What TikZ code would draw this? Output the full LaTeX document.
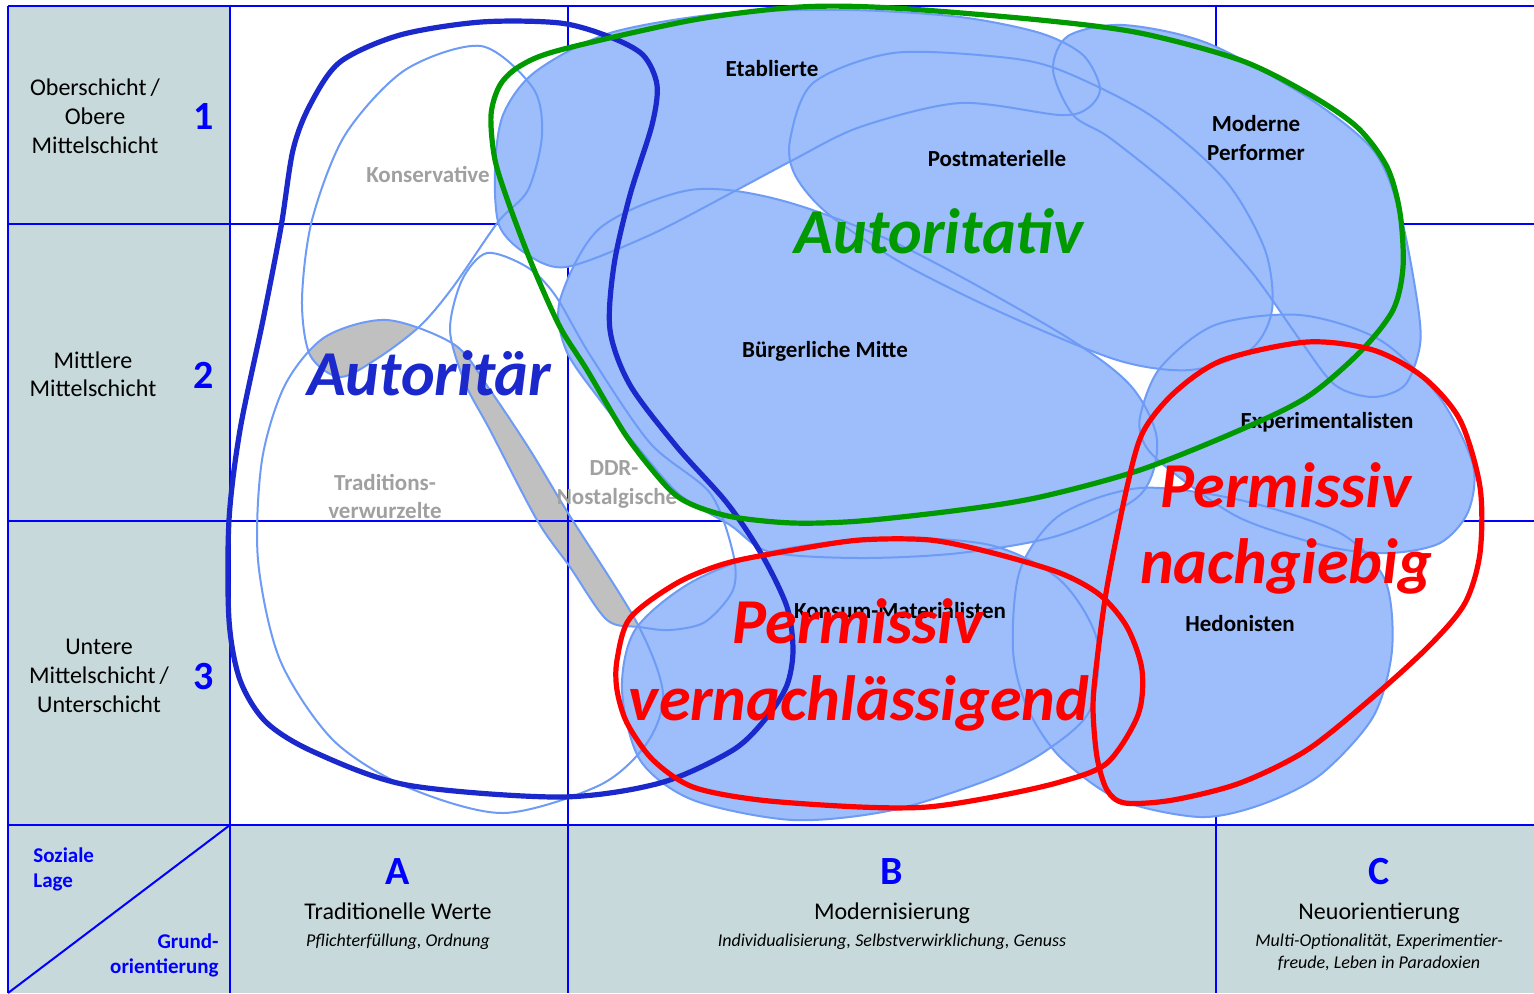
\documentclass[tikz,border=0pt]{standalone}
\usepackage{fontspec}
\setmainfont{Carlito}
\definecolor{cellgray}{RGB}{199,217,218}
\definecolor{gridblue}{RGB}{0,0,255}
\definecolor{milfill}{RGB}{157,190,250}
\definecolor{milline}{RGB}{110,155,245}
\definecolor{autblue}{RGB}{26,40,204}
\definecolor{autgreen}{RGB}{0,153,0}
\definecolor{permred}{RGB}{255,0,0}
\definecolor{graylab}{RGB}{160,160,160}
\definecolor{grayfill}{RGB}{192,192,192}
\def\pEtab{plot[smooth cycle] coordinates {(495,170) (503,115) (535,72) (610,33) (727,13) (850,10) (960,17) (1040,33) (1083,55) (1100,88) (1088,108) (1060,115) (960,103) (860,127) (793,160) (733,192) (650,235) (566,267) (525,253) (499,225)}}
\def\pPost{plot[smooth cycle] coordinates {(790,140) (813,83) (893,53) (1000,57) (1060,70) (1150,115) (1225,180) (1265,250) (1272,310) (1250,350) (1190,370) (1117,360) (1000,312) (900,262) (827,213) (795,175)}}
\def\pMP{plot[smooth cycle] coordinates {(1053,70) (1068,36) (1123,25) (1207,43) (1307,97) (1373,150) (1400,213) (1417,300) (1420,345) (1405,385) (1373,397) (1335,385) (1300,340) (1250,270) (1180,195) (1110,138) (1073,115)}}
\def\pBM{plot[smooth cycle] coordinates {(560,300) (600,228) (690,190) (780,200) (900,245) (1060,333) (1130,385) (1157,440) (1140,495) (1060,535) (960,553) (860,558) (770,552) (730,525) (680,495) (640,450) (600,400) (566,350)}}
\def\pExp{plot[smooth cycle] coordinates {(1140,417) (1160,368) (1215,325) (1300,315) (1380,340) (1440,398) (1473,465) (1468,512) (1440,543) (1390,553) (1330,547) (1240,518) (1170,470) (1145,445)}}
\def\pHed{plot[smooth cycle] coordinates {(1013,650) (1020,570) (1060,515) (1140,488) (1240,500) (1340,533) (1385,580) (1392,650) (1373,717) (1320,775) (1260,805) (1200,817) (1120,800) (1060,757) (1027,707)}}
\def\pKM{plot[smooth cycle] coordinates {(622,690) (635,630) (690,583) (770,552) (880,538) (990,545) (1060,580) (1097,640) (1090,710) (1047,750) (993,778) (893,810) (793,820) (693,800) (640,760)}}
\def\pKons{plot[smooth cycle] coordinates {(481,46) (533,88) (542,135) (528,190) (498,222) (453,287) (420,326) (378,358) (340,377) (310,355) (302,300) (312,220) (345,135) (405,70)}}
\def\pTrad{plot[smooth cycle] coordinates {(387,320) (455,345) (490,390) (530,450) (568,513) (637,623) (663,693) (647,743) (600,785) (503,813) (407,787) (333,740) (280,660) (258,560) (262,460) (285,385) (325,337)}}
\def\pDDR{plot[smooth cycle] coordinates {(487,253) (527,267) (555,295) (590,355) (650,443) (710,493) (733,553) (733,590) (705,622) (670,630) (640,627) (607,620) (570,567) (537,520) (490,430) (465,383) (450,330) (462,280)}}
\def\pAutor{plot[smooth cycle] coordinates {(560,23) (610,37) (643,55) (657,85) (652,125) (630,195) (614,265) (610,330) (630,385) (677,447) (727,503) (762,555) (787,607) (793,650) (787,685) (767,717) (733,750) (660,783) (560,797) (407,785) (314,752) (266,722) (240,680) (229,620) (229,520) (240,430) (263,320) (281,227) (293,150) (310,105) (340,62) (400,35) (481,22)}}
\def\pAutiv{plot[smooth cycle] coordinates {(560,50) (693,20) (800,7) (893,8) (1040,20) (1140,33) (1240,60) (1307,93) (1357,127) (1387,167) (1400,213) (1403,267) (1393,310) (1360,352) (1307,397) (1240,430) (1140,470) (1040,497) (960,510) (860,521) (793,523) (733,517) (693,505) (668,488) (627,437) (587,370) (560,327) (533,267) (510,207) (495,160) (491,115) (500,85) (520,66)}}
\def\pRedA{plot[smooth cycle] coordinates {(617,660) (630,618) (677,583) (727,563) (793,550) (860,540) (930,540) (993,553) (1060,573) (1100,595) (1127,627) (1142,670) (1138,715) (1107,763) (1060,782) (993,797) (927,807) (860,807) (760,800) (693,787) (653,760) (627,723) (617,690)}}
\def\pRedB{plot[smooth cycle] coordinates {(1097,660) (1107,587) (1127,487) (1143,432) (1175,392) (1223,360) (1307,342) (1373,350) (1423,377) (1460,420) (1480,487) (1480,553) (1465,603) (1430,645) (1373,697) (1307,750) (1240,783) (1173,800) (1125,803) (1107,790) (1097,757) (1093,707)}}
\tikzset{
  gridline/.style={draw=gridblue, line width=1pt},
  milshape/.style={draw=milline, line width=1pt},
  loopline/.style={line width=2.6pt},
  lab/.style={anchor=base, inner sep=0pt, font=\fontsize{12}{14}\selectfont},
  num/.style={anchor=base, inner sep=0pt, text=gridblue, font=\fontsize{20}{24}\selectfont\bfseries},
  sub/.style={anchor=base, inner sep=0pt, font=\fontsize{9}{11}\selectfont\itshape},
  corner/.style={inner sep=0pt, text=gridblue, font=\fontsize{10.5}{12}\selectfont\bfseries},
  mil/.style={anchor=base, inner sep=0pt, font=\fontsize{11.5}{13}\selectfont\bfseries},
  milgray/.style={mil, text=graylab},
  big/.style={anchor=base, inner sep=0pt, font=\fontsize{32}{38}\selectfont\bfseries\itshape},
}
\begin{document}
\begin{tikzpicture}[x=0.5pt,y=-0.5pt]
\useasboundingbox (0,0) rectangle (1534,993);
\fill[white] (0,0) rectangle (1534,993);
% cell fills
\fill[cellgray] (8,6) rectangle (230,825);
\fill[cellgray] (8,825) rectangle (1534,993);
% gray intersections
\begin{scope}
  \clip \pKons;
  \fill[grayfill] \pTrad;
\end{scope}
\begin{scope}
  \clip \pDDR;
  \fill[grayfill] \pTrad;
\end{scope}
% grid
\draw[gridline] (8,6) -- (1534,6);
\draw[gridline] (8,6) -- (8,993);
\draw[gridline] (8,224) -- (1534,224);
\draw[gridline] (8,521) -- (1534,521);
\draw[gridline] (8,825) -- (1534,825);
\draw[gridline] (230,6) -- (230,993);
\draw[gridline] (568,6) -- (568,993);
\draw[gridline] (1216,6) -- (1216,993);
\draw[gridline] (230,825) -- (8,993);
% milieu fills
\fill[milfill] \pEtab;
\fill[milfill] \pPost;
\fill[milfill] \pMP;
\fill[milfill] \pBM;
\fill[milfill] \pExp;
\fill[milfill] \pHed;
\fill[milfill] \pKM;
% milieu outlines
\path[milshape] \pKons;
\path[milshape] \pTrad;
\path[milshape] \pDDR;
\path[milshape] \pEtab;
\path[milshape] \pPost;
\path[milshape] \pMP;
\path[milshape] \pBM;
\path[milshape] \pExp;
\path[milshape] \pHed;
\path[milshape] \pKM;
% left column labels
\node[lab] (l1a) at (95,95) {Oberschicht\,/};
\node[lab] (l1b) at (95,124) {Obere};
\node[lab] (l1c) at (95,153) {Mittelschicht};
\node[num] (n1) at (204,129) {1};
\node[lab] (l2a) at (93,368) {Mittlere};
\node[lab] (l2b) at (93,396) {Mittelschicht};
\node[num] (n2) at (204,388) {2};
\node[lab] (l3a) at (99,654) {Untere};
\node[lab] (l3b) at (99,683) {Mittelschicht\,/};
\node[lab] (l3c) at (99,712) {Unterschicht};
\node[num] (n3) at (204,689) {3};
% corner
\node[corner, anchor=base west] (soz) at (33,862) {Soziale};
\node[corner, anchor=base west] (lage) at (33,887) {Lage};
\node[corner, anchor=base east] (grund) at (219,948) {Grund-};
\node[corner, anchor=base east] (orient) at (219,973) {orientierung};
% bottom headers
\node[num] (hA) at (398,884) {A};
\node[lab] (tA) at (398,919) {Traditionelle Werte};
\node[sub] (sA) at (398,946) {Pflichterfüllung, Ordnung};
\node[num] (hB) at (892,884) {B};
\node[lab] (tB) at (892,919) {Modernisierung};
\node[sub] (sB) at (892,946) {Individualisierung, Selbstverwirklichung, Genuss};
\node[num] (hC) at (1379,884) {C};
\node[lab] (tC) at (1379,919) {Neuorientierung};
\node[sub] (sC1) at (1379,946) {Multi-Optionalität, Experimentier-};
\node[sub] (sC2) at (1379,968) {freude, Leben in Paradoxien};
% milieu labels
\node[mil] (etab) at (772,76) {Etablierte};
\node[mil] (post) at (997,166) {Postmaterielle};
\node[mil] (mp1) at (1256,131) {Moderne};
\node[mil] (mp2) at (1256,160) {Performer};
\node[milgray] (kons) at (428,182) {Konservative};
\node[mil] (bm) at (825,357) {Bürgerliche Mitte};
\node[mil] (exp) at (1327,428) {Experimentalisten};
\node[milgray] (trad1) at (385,490) {Traditions-};
\node[milgray] (trad2) at (385,518) {verwurzelte};
\node[milgray] (ddr1) at (614,475) {DDR-};
\node[milgray] (ddr2) at (617,504) {Nostalgische};
\node[mil] (km) at (900,618) {Konsum-Materialisten};
\node[mil] (hed) at (1240,631) {Hedonisten};
% style loops
\draw[loopline, autblue] \pAutor;
\draw[loopline, autgreen] \pAutiv;
\draw[loopline, permred] \pRedA;
\draw[loopline, permred] \pRedB;
% big labels
\node[big, text=autgreen] (autiv) at (939,253) {Autoritativ};
\node[big, text=autblue] (autor) at (429,395) {Autoritär};
\node[big, text=permred] (pn1) at (1286,507) {Permissiv};
\node[big, text=permred] (pn2) at (1286,583) {nachgiebig};
\node[big, text=permred] (pv1) at (858,643) {Permissiv};
\node[big, text=permred] (pv2) at (859,720) {vernachlässigend};
\end{tikzpicture}
\end{document}
